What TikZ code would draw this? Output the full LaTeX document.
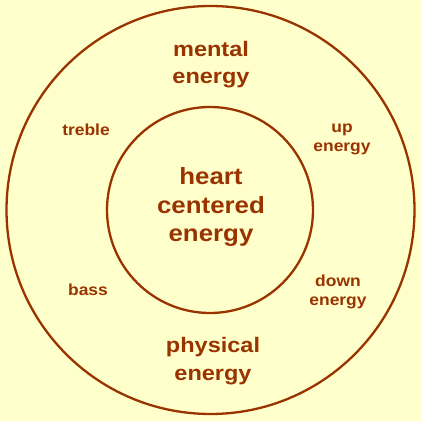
\documentclass[tikz,border=0pt]{standalone}
\usepackage{fontspec}
\setmainfont{Liberation Sans}
\newfontfamily\bigf{Liberation Sans}[FakeStretch=1.12]
\newfontfamily\hugef{Liberation Sans}[FakeStretch=1.1]
\newfontfamily\smallf{Liberation Sans}[FakeStretch=1.09]
\definecolor{bg}{HTML}{FFFFCC}
\definecolor{brn}{HTML}{993300}
\begin{document}
\begin{tikzpicture}[x=1pt,y=1pt,
  ring/.style={draw=brn,line width=2.3pt},
  big/.style={text=brn,font=\bigf\bfseries\fontsize{21}{27.5}\selectfont,align=center,inner sep=0},
  huge/.style={text=brn,font=\hugef\bfseries\fontsize{23.5}{28.5}\selectfont,align=center,inner sep=0},
  small/.style={text=brn,font=\smallf\bfseries\fontsize{16}{19.5}\selectfont,align=center,inner sep=0}]
\fill[bg] (0,0) rectangle (421,421);
\useasboundingbox (0,0) rectangle (421,421);
\node[ring,circle,minimum size=408pt,inner sep=0] (outer) at (210.5,211) {};
\node[ring,circle,minimum size=206pt,inner sep=0] (inner) at (210,211) {};
\node[huge] (heart) at (211,214) {heart\\centered\\energy};
\node[big] (mental) at (211,356.5) {mental\\energy};
\node[big] (physical) at (213,60) {physical\\energy};
\node[small] (treble) at (86,291) {treble};
\node[small] (up) at (342,281.5) {up\\energy};
\node[small] (bass) at (88,131) {bass};
\node[small] (down) at (338,129) {down\\energy};
\end{tikzpicture}
\end{document}
